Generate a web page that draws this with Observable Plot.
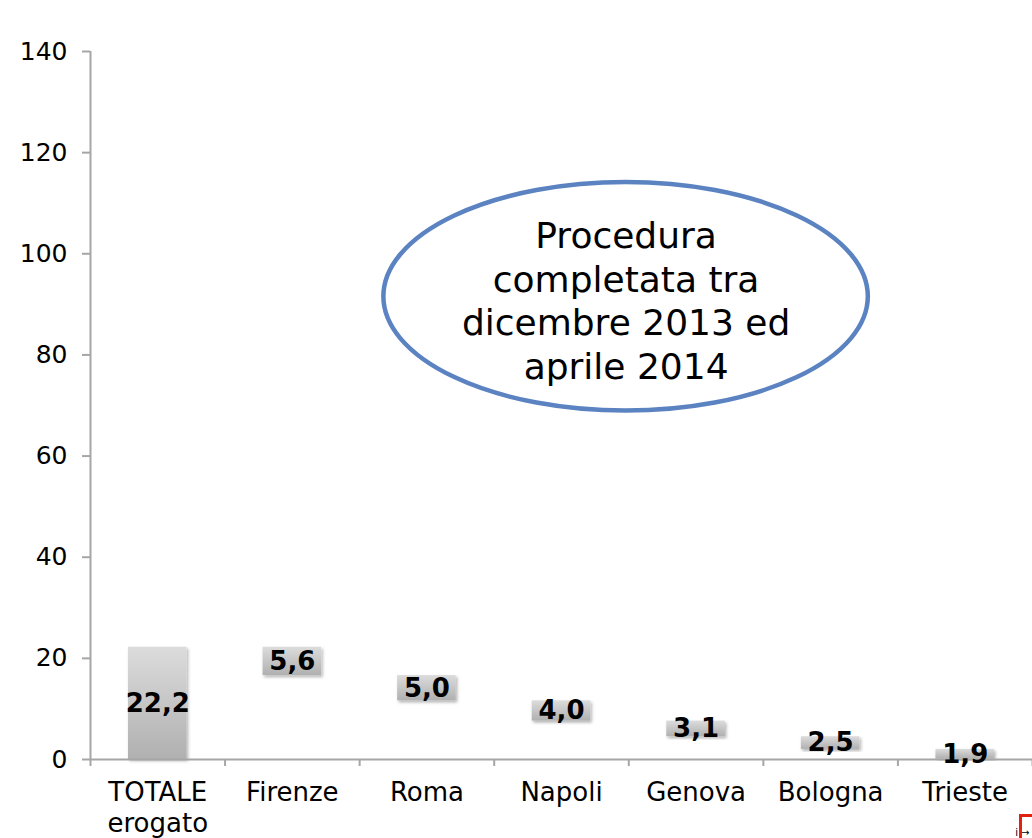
<!DOCTYPE html>
<html><head><meta charset="utf-8">
<script src="https://cdn.jsdelivr.net/npm/d3@7"></script>
<script src="https://cdn.jsdelivr.net/npm/@observablehq/plot@0.6"></script>
<style>
body{margin:0;background:#fff;}
#chart{position:relative;width:1032px;height:838px;overflow:hidden;}
#redmark{position:absolute;left:1019px;top:814px;width:40px;height:40px;border-top:3px solid #e0220f;border-left:3px solid #e0220f;}
g[aria-label="rect"] rect{filter:url(#barShadow);}
</style></head><body><div id="chart"></div>
<script>
const categories = ["TOTALE\nerogato","Firenze","Roma","Napoli","Genova","Bologna","Trieste"];
const values = [22.2,5.6,5.0,4.0,3.1,2.5,1.9];
const yTicks = [0,20,40,60,80,100,120,140];
const noteText = "Procedura\ncompletata tra\ndicembre 2013 ed\naprile 2014";
const note = {x: 3.98, y: 91.5, rx: 1.8, ry: 22.6};

const rows = [];
let level = 0;
categories.forEach((c, i) => {
  const v = values[i];
  let y1, y2;
  if (i === 0) { y1 = 0; y2 = v; level = v; }
  else { y2 = level; y1 = level - v; level = y1; }
  rows.push({i, cat: c, v, y1, y2, label: v.toFixed(1).replace(".", ",")});
});
const bounds = d3.range(categories.length + 1);

const decor = (index, scales) => {
  const g = d3.create("svg:g");
  const defs = g.append("defs");
  const lg = defs.append("linearGradient").attr("id","barGrad").attr("x1",0).attr("y1",0).attr("x2",0).attr("y2",1);
  lg.append("stop").attr("offset","0%").attr("stop-color","#dcdcdc");
  lg.append("stop").attr("offset","100%").attr("stop-color","#b0b0b0");
  const f = defs.append("filter").attr("id","barShadow").attr("x","-20%").attr("y","-20%").attr("width","140%").attr("height","140%");
  f.append("feDropShadow").attr("dx",1.5).attr("dy",2).attr("stdDeviation",1.5).attr("flood-color","#000").attr("flood-opacity",0.3);
  const cx = scales.x(note.x), cy = scales.y(note.y);
  g.append("ellipse")
    .attr("cx", cx).attr("cy", cy)
    .attr("rx", scales.x(note.x + note.rx) - cx)
    .attr("ry", scales.y(note.y - note.ry) - cy)
    .attr("fill", "white").attr("stroke", "#5b83c1").attr("stroke-width", 4.5);
  return g.node();
};

const chart = Plot.plot({
  width: 1032, height: 838,
  marginLeft: 90, marginRight: 0, marginTop: 51, marginBottom: 79,
  x: {domain: [0, categories.length], axis: null},
  y: {domain: [0, 140], axis: null},
  style: {fontFamily: "DejaVu Sans", color: "black", background: "white"},
  marks: [
    decor,
    Plot.text([noteText], {x: () => note.x, y: () => note.y, dy: 3, text: d => d, fontSize: 36, lineHeight: 1.21, fill: "black"}),
    Plot.rectY(rows, {x1: "i", x2: d => d.i + 1, y1: "y1", y2: "y2", insetLeft: 38, insetRight: 38, fill: "url(#barGrad)"}),
    Plot.ruleX([0], {stroke: "#a6a6a6", strokeWidth: 2}),
    Plot.ruleY([0], {stroke: "#a6a6a6", strokeWidth: 2}),
    Plot.axisY(yTicks, {tickSize: 8, tickPadding: 15, fontSize: 25, stroke: "#a6a6a6", strokeWidth: 2, fill: "black"}),
    Plot.axisX(bounds, {tickSize: 7, tickFormat: () => "", stroke: "#a6a6a6", strokeWidth: 2}),
    Plot.text(rows, {x: d => d.i + 0.5, y: d => (d.y1 + d.y2) / 2, text: "label", fontSize: 26, fontWeight: "bold", fill: "black"}),
    Plot.text(rows, {x: d => d.i + 0.5, y: 0, text: "cat", dy: 19, lineAnchor: "top", fontSize: 26, lineHeight: 1.2, fill: "black"})
  ]
});
const host = document.getElementById("chart");
host.appendChild(chart);
const rm = document.createElement("div"); rm.id = "redmark"; host.appendChild(rm);
</script>
</body></html>
